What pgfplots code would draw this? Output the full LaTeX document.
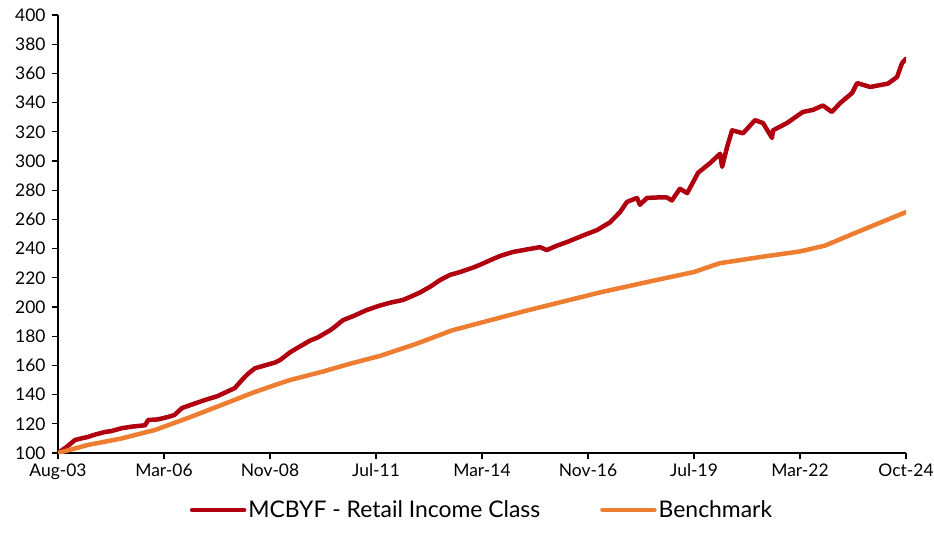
\documentclass[border=0pt]{standalone}
\usepackage{pgfplots}
\pgfplotsset{compat=1.18}
\usepackage{fontspec}
\setmainfont{Lato}
\definecolor{fundred}{RGB}{176,0,16}
\definecolor{benchor}{RGB}{237,125,49}
\begin{document}
\begin{tikzpicture}
\useasboundingbox (-58bp,-89bp) rectangle (876bp,453bp);
\begin{axis}[
  scale only axis,
  width=848bp, height=438bp,
  xmin=0, xmax=255, ymin=100, ymax=400,
  axis x line=bottom, axis y line=left,
  axis line style={-, line width=1.6bp, black},
  xtick={0,31.875,63.75,95.625,127.5,159.375,191.25,223.125,255},
  xticklabels={Aug-03,Mar-06,Nov-08,Jul-11,Mar-14,Nov-16,Jul-19,Mar-22,Oct-24},
  ytick={100,120,...,400},
  tick align=outside,
  major tick length=6bp,
  tick style={line width=1.2bp, black},
  /pgf/number format/assume math mode=true,
  tick label style={font=\fontsize{17.5}{20}\selectfont},
  yticklabel style={xshift=-3bp},
  xticklabel style={yshift=-1bp},
  legend style={at={(0.5,-0.130)}, anchor=center, draw=none, fill=none,
    font=\fontsize{23}{27}\selectfont, legend columns=2,
    /tikz/every even column/.append style={column sep=58bp},
    inner sep=0pt},
  legend image code/.code={\draw[#1] (0bp,0bp) -- (52bp,0bp);},
  every axis plot/.append style={line join=round, line cap=round},
]
\addplot[color=fundred, line width=4.5bp] coordinates {
(0,100) (2.5,104) (5.1,108.9) (7,110) (9.0,111) (11,112.5) (14.1,114.4) (16,115) (19.2,117) (22,118) (26.2,119) (27.1,122.6) (30,123) (33.1,124.7) (35,126) (37.3,130.8) (40,133) (44.2,136.3) (48,139) (53.2,144.5) (55.3,150) (57,154) (59.2,158) (62.2,160) (65.3,162) (66.8,163.7) (69.8,169) (72,172) (75.8,177) (78,179) (81.8,184) (83,186) (85.7,191) (89,194) (92.9,198) (96.8,201) (100,203) (103.7,204.8) (106,207) (108.9,210) (112,214) (114.9,218.5) (117.9,222) (121,224) (124.8,227) (127,229) (129.9,232) (133,235) (136.8,237.7) (140,239) (144.9,241) (147.0,239) (150,242) (153.1,244.5) (157.9,249) (162.1,252.7) (166.0,258) (169.0,265) (171.1,272) (174.1,274.7) (175.0,270) (177.1,274.7) (180.1,275) (183.1,275) (184.6,273) (187.0,281) (189.2,278) (192.5,292) (196.1,298.6) (199.1,305) (199.7,296) (201.2,309.6) (202.7,321) (206.0,319) (209.6,328) (212.0,326) (214.7,315.8) (215.0,321) (219.2,326) (224.0,333.6) (227.0,335) (230.0,338) (232.7,333.6) (235.2,339.7) (238.8,346.6) (240.3,353.4) (244.2,350.7) (247.2,352) (249.6,353) (252.3,357.5) (253.8,367) (255,370)
};
\addlegendentry{MCBYF - Retail Income Class}
\addplot[color=benchor, line width=4.5bp] coordinates {
(0,100) (9.0,105.5) (19.2,110) (29.2,115.8) (39.1,124) (49.3,133) (59.2,141.8) (65.3,146.6) (69.8,150) (80,156) (87.6,161) (96.8,166.5) (108,175) (118.5,184) (140,197) (163,210) (180,218.5) (191.3,224) (199,230) (212,234.5) (223,238) (230.6,242) (240,251) (255,265)
};
\addlegendentry{Benchmark}
\end{axis}
\end{tikzpicture}
\end{document}
